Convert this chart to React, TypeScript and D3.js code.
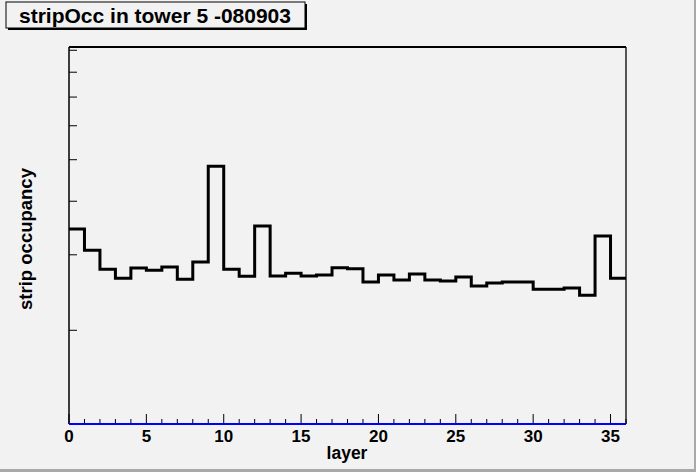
import React from "react";
import * as d3 from "d3";

// strip occupancy per layer (arbitrary units)
const layers = [0,1,2,3,4,5,6,7,8,9,10,11,12,13,14,15,16,17,18,19,20,21,22,23,24,25,26,27,28,29,30,31,32,33,34,35];
const occupancy = [
  3.446, 3.074, 2.776, 2.644, 2.796, 2.761, 2.811, 2.630, 2.887, 4.826,
  2.776, 2.674, 3.502, 2.678, 2.717, 2.678, 2.692, 2.800, 2.785, 2.592,
  2.692, 2.620, 2.706, 2.620, 2.607, 2.663, 2.538, 2.579, 2.592, 2.592,
  2.494, 2.494, 2.510, 2.414, 3.320, 2.644,
];
const xTickLabels = [0, 5, 10, 15, 20, 25, 30, 35];
const xMinorTicks = d3.range(0, 37, 1);
const yTicks = [2, 3, 4, 5, 6, 7, 8, 9];
const yDomain: [number, number] = [1.209, 9.16];
const xDomain: [number, number] = [0, 36];

const W = 696, H = 472;
const L = 69, R = 626, T = 47, B = 424;
const BG = "#f2f2f2";
const FONT = "'Liberation Sans', Arial, Helvetica, sans-serif";

export default function App() {
  const x = d3.scaleLinear().domain(xDomain).range([L, R]);
  const y = d3.scaleLog().domain(yDomain).range([B, T]);

  const pts: [number, number][] = layers.map((l, i) => [l, occupancy[i]]);
  pts.push([layers[layers.length - 1] + 1, occupancy[occupancy.length - 1]]);
  const line = d3
    .line<[number, number]>()
    .x((d) => x(d[0]))
    .y((d) => y(d[1]))
    .curve(d3.curveStepAfter);

  return (
    <svg
      width={W}
      height={H}
      style={{ position: "absolute", left: 0, top: 0, display: "block" }}
      fontFamily={FONT}
    >
      <rect x={0} y={0} width={W} height={H} fill={BG} />
      {/* canvas bevel */}
      <rect x={W - 2} y={0} width={2} height={H} fill="#a9a9a9" />
      <rect x={0} y={H - 3} width={W} height={3} fill="#a9a9a9" />

      {/* frame */}
      <line x1={L} x2={R} y1={T} y2={T} stroke="#000" strokeWidth={2} />
      <line x1={R} x2={R} y1={T} y2={B} stroke="#000" strokeWidth={1.3} />
      <line x1={L} x2={L} y1={T} y2={B} stroke="#000" strokeWidth={1.5} />

      {/* y ticks (log) */}
      {yTicks.map((t) => (
        <line key={t} x1={L} x2={L + 8} y1={y(t)} y2={y(t)} stroke="#000" strokeWidth={1} />
      ))}

      {/* x ticks */}
      {xMinorTicks.map((t) => {
        const major = t % 5 === 0;
        return (
          <line
            key={t}
            x1={x(t)}
            x2={x(t)}
            y1={B}
            y2={B - (major ? 10 : 5)}
            stroke="#000"
            strokeWidth={1}
          />
        );
      })}
      {xTickLabels.map((t) => (
        <text
          key={t}
          x={x(t)}
          y={442}
          textAnchor="middle"
          fontSize={17}
          fontWeight="bold"
          fill="#000"
        >
          {t}
        </text>
      ))}

      {/* histogram */}
      <path d={line(pts) ?? ""} fill="none" stroke="#000" strokeWidth={3} strokeLinejoin="miter" />

      {/* blue baseline histogram */}
      <line x1={L} x2={R} y1={B} y2={B} stroke="#0000ff" strokeWidth={2} />

      {/* axis titles */}
      <text x={347} y={459} textAnchor="middle" fontSize={17.5} fontWeight="bold" fill="#000">
        layer
      </text>
      <text
        transform={`translate(32,239) rotate(-90)`}
        textAnchor="middle"
        fontSize={18.5}
        fontWeight="bold"
        fill="#000"
      >
        strip occupancy
      </text>

      {/* title box */}
      <rect x={8} y={4} width={299} height={26} fill="#000" />
      <rect x={6} y={2} width={299} height={26} fill={BG} stroke="#000" strokeWidth={1} />
      <text x={155} y={23} textAnchor="middle" fontSize={21} fontWeight="bold" fill="#000">
        stripOcc in tower 5 -080903
      </text>
    </svg>
  );
}
